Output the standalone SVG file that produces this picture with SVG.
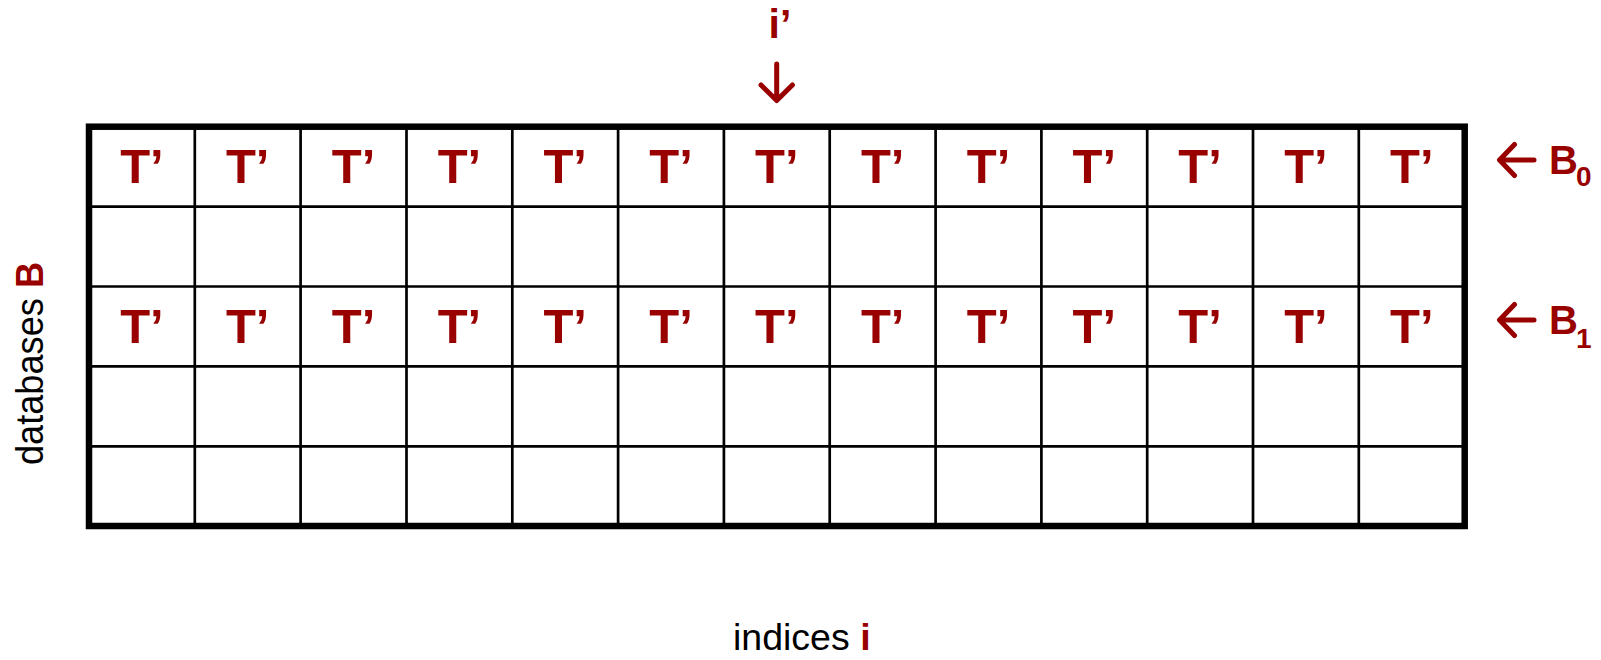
<svg xmlns="http://www.w3.org/2000/svg" width="1601" height="660" viewBox="0 0 1601 660">
  <style>
    .red { fill: #990000; font-family: "Liberation Sans", Arial, sans-serif; font-weight: bold; }
    .cellT { font-size: 49px; text-anchor: middle; }
    .axis { fill: #000000; font-family: "Liberation Sans", Arial, sans-serif; }
    .grid-inner { stroke: #000000; stroke-width: 2.7; fill: none; }
    .grid-outer { stroke: #000000; stroke-width: 6.5; fill: none; }
    .ptr { stroke: #990000; stroke-width: 5; fill: none; stroke-linecap: round; stroke-linejoin: round; }
  </style>
  <defs>
    <g id="tcell"><text class="red cellT" x="0" y="0">T’</text></g>
  </defs>
  <rect width="1601" height="660" fill="#ffffff"/>

  <!-- table of databases (rows) by indices (columns) -->
  <g id="grid">
    <g class="grid-inner">
      <line x1="194.8" y1="126.7" x2="194.8" y2="526"/>
      <line x1="300.6" y1="126.7" x2="300.6" y2="526"/>
      <line x1="406.5" y1="126.7" x2="406.5" y2="526"/>
      <line x1="512.3" y1="126.7" x2="512.3" y2="526"/>
      <line x1="618.1" y1="126.7" x2="618.1" y2="526"/>
      <line x1="723.9" y1="126.7" x2="723.9" y2="526"/>
      <line x1="829.7" y1="126.7" x2="829.7" y2="526"/>
      <line x1="935.6" y1="126.7" x2="935.6" y2="526"/>
      <line x1="1041.4" y1="126.7" x2="1041.4" y2="526"/>
      <line x1="1147.2" y1="126.7" x2="1147.2" y2="526"/>
      <line x1="1253.0" y1="126.7" x2="1253.0" y2="526"/>
      <line x1="1358.8" y1="126.7" x2="1358.8" y2="526"/>
      <line x1="89" y1="206.6" x2="1464.7" y2="206.6"/>
      <line x1="89" y1="286.5" x2="1464.7" y2="286.5"/>
      <line x1="89" y1="366.4" x2="1464.7" y2="366.4"/>
      <line x1="89" y1="446.3" x2="1464.7" y2="446.3"/>
    </g>
    <rect class="grid-outer" x="89" y="126.7" width="1375.7" height="399.3"/>
  </g>

  <!-- row B0 entries -->
  <g id="row-B0">
    <use href="#tcell" x="141.9" y="183.3"/>
    <use href="#tcell" x="247.7" y="183.3"/>
    <use href="#tcell" x="353.6" y="183.3"/>
    <use href="#tcell" x="459.4" y="183.3"/>
    <use href="#tcell" x="565.2" y="183.3"/>
    <use href="#tcell" x="671.0" y="183.3"/>
    <use href="#tcell" x="776.8" y="183.3"/>
    <use href="#tcell" x="882.7" y="183.3"/>
    <use href="#tcell" x="988.5" y="183.3"/>
    <use href="#tcell" x="1094.3" y="183.3"/>
    <use href="#tcell" x="1200.1" y="183.3"/>
    <use href="#tcell" x="1305.9" y="183.3"/>
    <use href="#tcell" x="1411.8" y="183.3"/>
  </g>

  <!-- row B1 entries -->
  <g id="row-B1">
    <use href="#tcell" x="141.9" y="343.2"/>
    <use href="#tcell" x="247.7" y="343.2"/>
    <use href="#tcell" x="353.6" y="343.2"/>
    <use href="#tcell" x="459.4" y="343.2"/>
    <use href="#tcell" x="565.2" y="343.2"/>
    <use href="#tcell" x="671.0" y="343.2"/>
    <use href="#tcell" x="776.8" y="343.2"/>
    <use href="#tcell" x="882.7" y="343.2"/>
    <use href="#tcell" x="988.5" y="343.2"/>
    <use href="#tcell" x="1094.3" y="343.2"/>
    <use href="#tcell" x="1200.1" y="343.2"/>
    <use href="#tcell" x="1305.9" y="343.2"/>
    <use href="#tcell" x="1411.8" y="343.2"/>
  </g>

  <!-- pointer arrows -->
  <g id="pointers">
    <path class="ptr" d="M776.7 64 V100 M761 85 L776.7 100.5 L792.4 85"/>
    <path class="ptr" d="M1534 160 H1500 M1514.5 144.5 L1499.5 160 L1514.5 175.5"/>
    <path class="ptr" d="M1534 320 H1500 M1514.5 304.5 L1499.5 320 L1514.5 335.5"/>
  </g>

  <g id="label-i-prime">
    <text class="red" x="780" y="37.7" font-size="41" text-anchor="middle">i’</text>
  </g>

  <g id="label-B0">
    <text class="red"><tspan x="1549" y="174.3" font-size="40">B</tspan><tspan x="1576" y="185.5" font-size="28">0</tspan></text>
  </g>

  <g id="label-B1">
    <text class="red"><tspan x="1549" y="333.8" font-size="40">B</tspan><tspan x="1576" y="347.5" font-size="28">1</tspan></text>
  </g>

  <g id="axis-rows">
    <text class="axis" transform="translate(43,465) rotate(-90)" x="0" y="0" font-size="38" textLength="203" lengthAdjust="spacingAndGlyphs">databases <tspan class="red">B</tspan></text>
  </g>

  <g id="axis-cols">
    <text class="axis" x="733" y="650" font-size="37.5">indices <tspan class="red">i</tspan></text>
  </g>
</svg>
